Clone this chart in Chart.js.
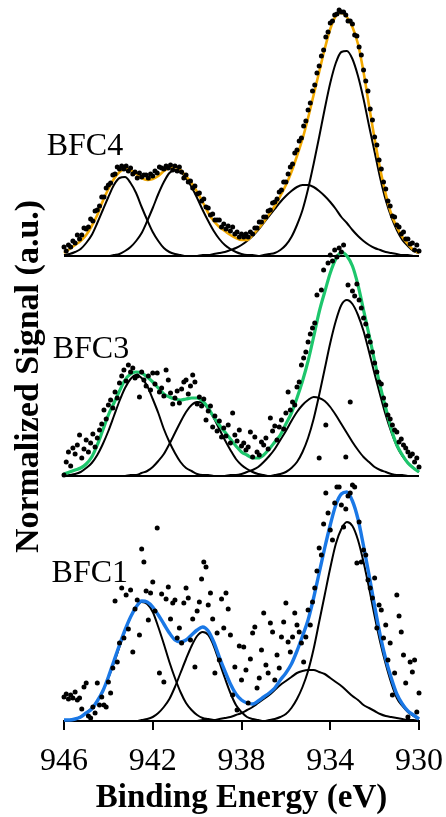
<!DOCTYPE html>
<html>
<head>
<meta charset="utf-8">
<title>Cu 2p XPS</title>
<script src="https://cdn.jsdelivr.net/npm/chart.js@4.4.1/dist/chart.umd.min.js"></script>
<style>
  html, body { margin: 0; padding: 0; background: #fff; }
  #wrap { width: 446px; height: 817px; }
</style>
</head>
<body>
<div id="wrap"><canvas id="xpsChart"></canvas></div>
<script>
// binding energy grid of the fitted curves (eV)
const fitEnergy = [
  946, 945.75, 945.5, 945.25, 945, 944.75, 944.5, 944.25,
  944, 943.75, 943.5, 943.25, 943, 942.75, 942.5, 942.25,
  942, 941.75, 941.5, 941.25, 941, 940.75, 940.5, 940.25,
  940, 939.75, 939.5, 939.25, 939, 938.75, 938.5, 938.25,
  938, 937.75, 937.5, 937.25, 937, 936.75, 936.5, 936.25,
  936, 935.75, 935.5, 935.25, 935, 934.75, 934.5, 934.25,
  934, 933.75, 933.5, 933.25, 933, 932.75, 932.5, 932.25,
  932, 931.75, 931.5, 931.25, 931, 930.75, 930.5, 930.25,
  930
];

// binding energy of the measured points (eV)
const dotEnergy = [
  946, 945.9, 945.8, 945.7, 945.6, 945.5, 945.4, 945.3, 945.2, 945.1,
  945, 944.9, 944.8, 944.7, 944.6, 944.5, 944.4, 944.3, 944.2, 944.1,
  944, 943.9, 943.8, 943.7, 943.6, 943.5, 943.4, 943.3, 943.2, 943.1,
  943, 942.9, 942.8, 942.7, 942.6, 942.5, 942.4, 942.3, 942.2, 942.1,
  942, 941.9, 941.8, 941.7, 941.6, 941.5, 941.4, 941.3, 941.2, 941.1,
  941, 940.9, 940.8, 940.7, 940.6, 940.5, 940.4, 940.3, 940.2, 940.1,
  940, 939.9, 939.8, 939.7, 939.6, 939.5, 939.4, 939.3, 939.2, 939.1,
  939, 938.9, 938.8, 938.7, 938.6, 938.5, 938.4, 938.3, 938.2, 938.1,
  938, 937.9, 937.8, 937.7, 937.6, 937.5, 937.4, 937.3, 937.2, 937.1,
  937, 936.9, 936.8, 936.7, 936.6, 936.5, 936.4, 936.3, 936.2, 936.1,
  936, 935.9, 935.8, 935.7, 935.6, 935.5, 935.4, 935.3, 935.2, 935.1,
  935, 934.9, 934.8, 934.7, 934.6, 934.5, 934.4, 934.3, 934.2, 934.1,
  934, 933.9, 933.8, 933.7, 933.6, 933.5, 933.4, 933.3, 933.2, 933.1,
  933, 932.9, 932.8, 932.7, 932.6, 932.5, 932.4, 932.3, 932.2, 932.1,
  932, 931.9, 931.8, 931.7, 931.6, 931.5, 931.4, 931.3, 931.2, 931.1,
  931, 930.9, 930.8, 930.7, 930.6, 930.5, 930.4, 930.3, 930.2, 930.1,
  930
];

const xTicks = [946, 942, 938, 934, 930];

// ---- BFC4 ----
const bfc4Fit = [
  3, 7, 11, 15, 21, 30, 41, 55,
  67, 77, 84, 87, 86, 82, 78, 76,
  77, 80, 85, 88, 89, 86, 80, 73,
  64, 54, 43, 35, 29, 25, 21, 18,
  16, 16, 21, 27, 34, 42, 50, 60,
  71, 84, 100, 117, 138, 161, 184, 207,
  227, 240, 243, 239, 229, 212, 184, 150,
  117, 87, 62, 42, 29, 19, 12, 6,
  3
];
const bfc4SatHigh = [
  1, 2, 4, 7, 13, 21, 33, 46,
  59, 71, 78, 79, 73, 63, 49, 36,
  24, 15, 8, 4, 2, 1, 0, 0,
  0, 0, 0, 0, 0, 0, 0, 0,
  0, 0, 0, 0, 0, 0, 0, 0,
  0, 0, 0, 0, 0, 0, 0, 0,
  0, 0, 0, 0, 0, 0, 0, 0,
  0, 0, 0, 0, 0, 0, 0, 0,
  0
];
const bfc4SatLow = [
  0, 0, 0, 0, 0, 0, 0, 0,
  0, 1, 2, 5, 9, 15, 23, 35,
  48, 62, 74, 83, 86, 84, 78, 69,
  58, 46, 35, 25, 17, 11, 7, 4,
  2, 1, 1, 0, 0, 0, 0, 0,
  0, 0, 0, 0, 0, 0, 0, 0,
  0, 0, 0, 0, 0, 0, 0, 0,
  0, 0, 0, 0, 0, 0, 0, 0,
  0
];
const bfc4Cu2 = [
  0, 0, 0, 0, 0, 0, 0, 0,
  0, 0, 0, 0, 0, 0, 0, 0,
  0, 0, 0, 0, 0, 0, 0, 0,
  0, 1, 1, 2, 3, 4, 6, 8,
  11, 15, 20, 26, 33, 40, 47, 54,
  60, 65, 69, 71, 71, 69, 65, 60,
  54, 47, 39, 33, 26, 20, 15, 11,
  8, 6, 4, 3, 2, 1, 1, 0,
  0
];
const bfc4Cu1 = [
  0, 0, 0, 0, 0, 0, 0, 0,
  0, 0, 0, 0, 0, 0, 0, 0,
  0, 0, 0, 0, 0, 0, 0, 0,
  0, 0, 0, 0, 0, 0, 0, 0,
  0, 0, 0, 0, 1, 2, 3, 6,
  11, 19, 31, 46, 67, 92, 119, 147,
  173, 193, 204, 205, 197, 180, 157, 130,
  104, 78, 56, 39, 26, 16, 10, 5,
  3
];
const bfc4Counts = [
  9, 5, 11, 9, 15, 13, 21, 17, 21, 28,
  27, 29, 37, 35, 45, 46, 50, 59, 59, 68,
  71, 73, 81, 82, 89, 87, 90, 87, 90, 85,
  88, 82, 84, 78, 83, 79, 81, 81, 78, 82,
  80, 85, 83, 89, 88, 87, 90, 88, 91, 86,
  90, 85, 89, 84, 78, 81, 74, 75, 68, 70,
  62, 63, 55, 57, 49, 48, 41, 42, 36, 36,
  36, 29, 32, 27, 30, 25, 29, 22, 24, 19,
  22, 19, 22, 19, 24, 22, 28, 28, 34, 34,
  39, 39, 45, 46, 53, 54, 57, 64, 66, 74,
  74, 82, 89, 92, 103, 106, 115, 118, 130, 135,
  146, 153, 165, 171, 183, 190, 200, 206, 219, 224,
  233, 235, 241, 242, 246, 244, 244, 241, 235, 235,
  232, 221, 220, 209, 201, 186, 175, 165, 147, 136,
  119, 111, 96, 87, 74, 67, 55, 50, 40, 39,
  31, 29, 22, 24, 17, 17, 12, 13, 6, 11,
  5
];

// ---- BFC3 ----
const bfc3Fit = [
  2, 4, 6, 8, 12, 19, 31, 46,
  61, 73, 85, 96, 102, 104, 103, 99,
  94, 88, 82, 79, 77, 76, 77, 78,
  78, 75, 68, 59, 51, 44, 37, 30,
  24, 21, 18, 18, 21, 27, 34, 41,
  52, 63, 78, 95, 115, 139, 164, 184,
  203, 217, 224, 220, 210, 191, 166, 141,
  115, 90, 68, 47, 31, 21, 13, 8,
  4
];
const bfc3SatHigh = [
  0, 1, 2, 4, 8, 13, 21, 32,
  45, 60, 75, 88, 97, 101, 98, 90,
  77, 63, 47, 34, 23, 14, 8, 5,
  2, 1, 1, 0, 0, 0, 0, 0,
  0, 0, 0, 0, 0, 0, 0, 0,
  0, 0, 0, 0, 0, 0, 0, 0,
  0, 0, 0, 0, 0, 0, 0, 0,
  0, 0, 0, 0, 0, 0, 0, 0,
  0
];
const bfc3SatLow = [
  0, 0, 0, 0, 0, 0, 0, 0,
  0, 0, 0, 0, 1, 1, 3, 5,
  9, 15, 22, 32, 43, 54, 64, 71,
  74, 73, 67, 58, 47, 36, 26, 17,
  11, 7, 4, 2, 1, 0, 0, 0,
  0, 0, 0, 0, 0, 0, 0, 0,
  0, 0, 0, 0, 0, 0, 0, 0,
  0, 0, 0, 0, 0, 0, 0, 0,
  0
];
const bfc3Cu2 = [
  0, 0, 0, 0, 0, 0, 0, 0,
  0, 0, 0, 0, 0, 0, 0, 0,
  0, 0, 0, 0, 0, 0, 0, 0,
  0, 0, 0, 0, 0, 0, 1, 1,
  2, 4, 6, 9, 14, 20, 27, 36,
  45, 55, 64, 71, 76, 79, 78, 75,
  69, 61, 52, 43, 34, 26, 19, 14,
  9, 6, 4, 2, 1, 1, 0, 0,
  0
];
const bfc3Cu1 = [
  0, 0, 0, 0, 0, 0, 0, 0,
  0, 0, 0, 0, 0, 0, 0, 0,
  0, 0, 0, 0, 0, 0, 0, 0,
  0, 0, 0, 0, 0, 0, 0, 0,
  0, 0, 0, 0, 0, 0, 1, 2,
  4, 8, 14, 24, 38, 57, 81, 107,
  133, 155, 171, 176, 172, 161, 145, 124,
  102, 81, 61, 44, 30, 20, 13, 8,
  4
];
const bfc3Counts = [
  1, 14, 24, 10, 28, 22, 31, 41, 18, 27,
  36, 24, 33, 42, 29, 38, 46, 52, 66, 57,
  71, 76, 68, 84, 78, 93, 100, 106, 95, 111,
  104, 108, 98, 100, 79, 104, 96, 90, 100, 86,
  103, 92, 103, 84, 88, 80, 106, 96, 83, 72,
  78, 85, 73, 87, 94, 96, 82, 90, 101, 94,
  72, 79, 70, 77, 56, 65, 70, 49, 60, 45,
  55, 39, 48, 40, 51, 33, 63, 41, 35, 46,
  30, 33, 26, 29, 44, 19, 39, 24, 21, 34,
  31, 38, 27, 58, 45, 50, 36, 49, 56, 47,
  63, 84, 66, 74, 71, 89, 94, 111, 118, 124,
  134, 142, 148, 153, 181, 18, 186, 206, 51, 213,
  221, 215, 226, 219, 228, 224, 231, 19, 191, 74,
  185, 180, 192, 176, 168, 158, 152, 140, 134, 124,
  113, 104, 94, 92, 78, 71, 61, 57, 51, 46,
  44, 34, 37, 31, 28, 24, 20, 22, 14, 18,
  9
];

// ---- BFC1 ----
const bfc1Fit = [
  1, 1, 2, 4, 8, 12, 20, 30,
  44, 60, 76, 91, 104, 114, 120, 119,
  114, 106, 97, 88, 81, 79, 81, 86,
  91, 94, 90, 79, 64, 50, 37, 27,
  21, 18, 17, 20, 24, 28, 33, 41,
  48, 57, 70, 85, 101, 123, 148, 173,
  196, 216, 227, 229, 220, 202, 175, 146,
  115, 86, 62, 43, 27, 17, 10, 6,
  2
];
const bfc1SatHigh = [
  1, 1, 2, 4, 8, 13, 20, 30,
  43, 58, 74, 90, 104, 114, 119, 117,
  109, 94, 77, 59, 43, 29, 18, 11,
  6, 3, 2, 1, 0, 0, 0, 0,
  0, 0, 0, 0, 0, 0, 0, 0,
  0, 0, 0, 0, 0, 0, 0, 0,
  0, 0, 0, 0, 0, 0, 0, 0,
  0, 0, 0, 0, 0, 0, 0, 0,
  0
];
const bfc1SatLow = [
  0, 0, 0, 0, 0, 0, 0, 0,
  0, 0, 0, 0, 0, 0, 1, 2,
  4, 8, 14, 22, 34, 48, 62, 75,
  85, 89, 86, 75, 59, 43, 28, 16,
  9, 4, 2, 1, 0, 0, 0, 0,
  0, 0, 0, 0, 0, 0, 0, 0,
  0, 0, 0, 0, 0, 0, 0, 0,
  0, 0, 0, 0, 0, 0, 0, 0,
  0
];
const bfc1Cu2 = [
  0, 0, 0, 0, 0, 0, 0, 0,
  0, 0, 0, 0, 0, 0, 0, 0,
  0, 0, 0, 0, 0, 0, 0, 0,
  0, 1, 1, 1, 2, 3, 4, 6,
  8, 11, 14, 18, 22, 26, 31, 36,
  40, 44, 48, 50, 51, 51, 49, 47,
  43, 39, 35, 30, 25, 21, 16, 13,
  10, 7, 5, 4, 3, 2, 1, 1,
  0
];
const bfc1Cu1 = [
  0, 0, 0, 0, 0, 0, 0, 0,
  0, 0, 0, 0, 0, 0, 0, 0,
  0, 0, 0, 0, 0, 0, 0, 0,
  0, 0, 0, 0, 0, 0, 0, 0,
  0, 0, 0, 0, 0, 1, 2, 4,
  7, 13, 22, 34, 50, 72, 99, 126,
  153, 177, 192, 199, 195, 181, 159, 133,
  105, 79, 57, 38, 23, 15, 9, 5,
  2
];
const bfc1Counts = [
  24, 27, 22, 26, 23, 29, 21, 23, 12, 34,
  38, 5, 3, 14, 8, 38, 16, 24, 16, 14,
  39, 28, 53, 120, 59, 78, 133, 83, 126, 92,
  131, 69, 112, 121, 86, 172, 159, 130, 101, 128,
  139, 110, 193, 48, 127, 39, 122, 134, 102, 118,
  121, 83, 93, 78, 118, 133, 123, 81, 102, 54,
  110, 119, 142, 159, 154, 116, 128, 102, 48, 88,
  61, 122, 93, 128, 112, 86, 26, 54, 11, 75,
  41, 74, 51, 18, 62, 88, 94, 33, 43, 71,
  108, 56, 48, 98, 89, 41, 66, 53, 84, 99,
  118, 79, 69, 84, 108, 96, 89, 78, 59, 84,
  111, 96, 119, 133, 150, 173, 166, 197, 228, 208,
  191, 181, 218, 234, 234, 216, 194, 212, 225, 228,
  236, 234, 158, 199, 159, 171, 166, 141, 133, 123,
  143, 93, 116, 111, 83, 96, 61, 78, 26, 48,
  126, 105, 89, 66, 38, 4, 59, 49, 61, 9,
  28
];

// stacked panels: each spectrum sits on its own baseline
const panels = [
  { name: 'BFC4', base: 465, color: '#F2A900', width: 2.6, fit: bfc4Fit,
    peaks: [bfc4SatHigh, bfc4SatLow, bfc4Cu2, bfc4Cu1], counts: bfc4Counts, labelE: 946.78, labelH: 101 },
  { name: 'BFC3', base: 245, color: '#1DC66C', width: 3.2, fit: bfc3Fit,
    peaks: [bfc3SatHigh, bfc3SatLow, bfc3Cu2, bfc3Cu1], counts: bfc3Counts, labelE: 946.51, labelH: 118 },
  { name: 'BFC1', base: 0, color: '#1A78E6', width: 3.4, fit: bfc1Fit,
    peaks: [bfc1SatHigh, bfc1SatLow, bfc1Cu2, bfc1Cu1], counts: bfc1Counts, labelE: 946.56, labelH: 139 }
];

const serif = '"Liberation Serif", "Times New Roman", serif';
Chart.defaults.font.family = serif;
Chart.defaults.color = '#000';

const datasets = [];
panels.forEach(p => {
  const lift = (energies, values) => energies.map((e, i) => ({ x: e, y: p.base + values[i] }));
  // measured points on top
  datasets.push({
    type: 'scatter', data: lift(dotEnergy, p.counts),
    pointRadius: 2.5, pointBackgroundColor: '#000', pointBorderWidth: 0, order: 0, clip: false
  });
  // envelope
  datasets.push({
    type: 'line', data: lift(fitEnergy, p.fit), borderColor: p.color, borderWidth: p.width,
    pointRadius: 0, cubicInterpolationMode: 'monotone', order: 1, clip: false
  });
  // fitted components
  p.peaks.forEach(pk => datasets.push({
    type: 'line', data: lift(fitEnergy, pk), borderColor: '#000', borderWidth: 2,
    pointRadius: 0, cubicInterpolationMode: 'monotone', order: 2, clip: false
  }));
});

// sample names and the rotated y title
const panelText = {
  id: 'panelText',
  afterDraw(chart) {
    const { ctx, scales: { x, y } } = chart;
    ctx.save();
    ctx.fillStyle = '#000';
    ctx.textBaseline = 'alphabetic';
    ctx.textAlign = 'left';
    ctx.font = '32px ' + serif;
    panels.forEach(p => {
      ctx.fillText(p.name, x.getPixelForValue(p.labelE), y.getPixelForValue(p.base + p.labelH));
    });
    ctx.font = 'bold 34px ' + serif;
    ctx.textAlign = 'center';
    ctx.translate(38, y.getPixelForValue(344.5));
    ctx.rotate(-Math.PI / 2);
    ctx.fillText('Normalized Signal (a.u.)', 0, 0);
    ctx.restore();
  }
};

new Chart(document.getElementById('xpsChart'), {
  type: 'scatter',
  data: { datasets },
  options: {
    responsive: true,
    maintainAspectRatio: false,
    animation: false,
    events: [],
    layout: { padding: { left: 64, right: 27, top: 4, bottom: 0 } },
    plugins: { legend: { display: false }, tooltip: { enabled: false } },
    scales: {
      x: {
        type: 'linear', reverse: true, min: 930, max: 946,
        afterBuildTicks: s => { s.ticks = xTicks.map(v => ({ value: v })); },
        // fixed axis height; end labels may hang into the side margins
        afterFit: s => { s.height = 96; s.paddingLeft = 0; s.paddingRight = 0; },
        border: { display: true, color: '#000', width: 2 },
        grid: { drawOnChartArea: false, drawTicks: true, tickLength: 9, color: '#000', lineWidth: 2 },
        ticks: { color: '#000', font: { size: 32 }, padding: 12, maxRotation: 0, autoSkip: false },
        title: {
          display: true, text: 'Binding Energy (eV)', color: '#000',
          font: { size: 33, weight: 'bold', lineHeight: 1.1 }, padding: { top: 0, bottom: 0 }
        }
      },
      y: { display: false, min: 0, max: 717 }
    }
  },
  plugins: [panelText]
});
</script>
</body>
</html>
